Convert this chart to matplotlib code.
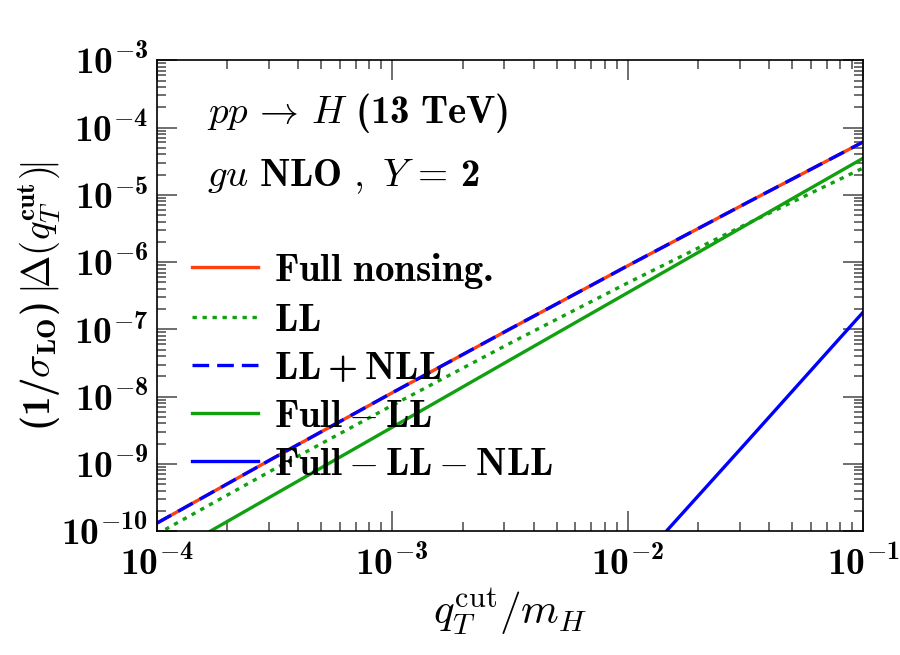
import numpy as np
import matplotlib
matplotlib.use('Agg')
import matplotlib.pyplot as plt
from matplotlib.ticker import LogLocator, NullFormatter

plt.rcParams['font.family'] = ['DejaVu Serif']
plt.rcParams['mathtext.fontset'] = 'custom'
plt.rcParams['mathtext.rm'] = 'cmr10'
plt.rcParams['mathtext.it'] = 'cmmi10'
plt.rcParams['mathtext.bf'] = 'cmb10'
plt.rcParams['mathtext.fallback'] = 'cm'

# values (log-log)
x = [1e-4, 3.16e-4, 1e-3, 3.16e-3, 1e-2, 3.16e-2, 1e-1]
full_nonsing = [1.31e-10, 1.24e-9, 1.14e-8, 1.01e-7, 8.8e-7, 7.4e-6, 6.1e-5]
ll = [9.0e-11, 8.4e-10, 7.4e-9, 6.2e-8, 4.9e-7, 3.6e-6, 2.5e-5]
ll_nll = [1.31e-10, 1.24e-9, 1.14e-8, 1.01e-7, 8.8e-7, 7.4e-6, 6.1e-5]
full_minus_ll = [3.5e-11, 3.5e-10, 3.5e-9, 3.5e-8, 3.5e-7, 3.5e-6, 3.5e-5]
x_high = [1e-2, 3.16e-2, 1e-1]
full_minus_ll_nll = [2.3e-11, 2.0e-9, 1.8e-7]

xticks = [1e-4, 1e-3, 1e-2, 1e-1]
xticklabels = [r'$\mathbf{10^{-4}}$', r'$\mathbf{10^{-3}}$', r'$\mathbf{10^{-2}}$', r'$\mathbf{10^{-1}}$']
yticks = [1e-10, 1e-9, 1e-8, 1e-7, 1e-6, 1e-5, 1e-4, 1e-3]
yticklabels = [r'$\mathbf{10^{-%d}}$' % k for k in range(10, 2, -1)]

red = '#ff4010'
green = '#10a010'
blue = '#0000ff'
lw = 2.4

fig = plt.figure(figsize=(9, 6.55), dpi=100)
ax = fig.add_axes([0.174, 0.189, 0.785, 0.719])

ax.plot(x, full_nonsing, color=red, lw=lw, label=r'$\mathbf{Full\ nonsing.}$')
ax.plot(x, ll, color=green, lw=lw, dashes=(1.3, 1.7), label=r'$\mathbf{LL}$')
ax.plot(x, ll_nll, color=blue, lw=lw, dashes=(5, 2.4), label=r'$\mathbf{LL+NLL}$')
ax.plot(x, full_minus_ll, color=green, lw=lw, label=r'$\mathbf{Full-LL}$')
ax.plot(x_high, full_minus_ll_nll, color=blue, lw=lw, label=r'$\mathbf{Full-LL-NLL}$')

ax.set_xscale('log')
ax.set_yscale('log')
ax.set_xlim(1e-4, 1e-1)
ax.set_ylim(1e-10, 1e-3)

ax.set_xticks(xticks)
ax.set_xticklabels(xticklabels)
ax.set_yticks(yticks)
ax.set_yticklabels(yticklabels)
ax.xaxis.set_minor_locator(LogLocator(base=10, subs=np.arange(2, 10), numticks=20))
ax.yaxis.set_minor_locator(LogLocator(base=10, subs=np.arange(2, 10), numticks=20))
ax.xaxis.set_minor_formatter(NullFormatter())
ax.yaxis.set_minor_formatter(NullFormatter())
ax.tick_params(which='both', direction='in', top=True, right=True, color='#555555', width=1.2)
ax.tick_params(which='major', length=14.5, labelsize=27)
ax.tick_params(axis='x', which='major', pad=11)
ax.tick_params(axis='y', which='major', pad=6)
ax.tick_params(which='minor', length=6.5)
for s in ax.spines.values():
    s.set_linewidth(1.2)

ax.set_xlabel(r'$q_T^{\rm cut}/m_H$', fontsize=31, labelpad=2)
ax.set_ylabel(r'$\mathbf{(1/}\sigma_{\mathbf{LO}}\mathbf{)}\ \!\!\mid\!\!\mathbf{\Delta}(q_T^{\mathbf{cut}})\!\!\mid$',
              fontsize=28)
ax.yaxis.set_label_coords(-0.134, 0.5)

ax.text(0.072, 0.887, r'$pp\, \rightarrow\, H\ \mathbf{(13\ TeV)}$', transform=ax.transAxes,
        fontsize=28, va='center', ha='left')
ax.text(0.072, 0.752, r'$gu\ \mathbf{NLO}\ ,\ Y\, =\, \mathbf{2}$', transform=ax.transAxes,
        fontsize=28, va='center', ha='left')

ax.legend(loc='upper left', bbox_to_anchor=(0.05, 0.595), frameon=False, fontsize=28,
          handlelength=1.7, handletextpad=0.4, labelspacing=0.28, borderpad=0, borderaxespad=0)

fig.savefig('out.png', dpi=100)
